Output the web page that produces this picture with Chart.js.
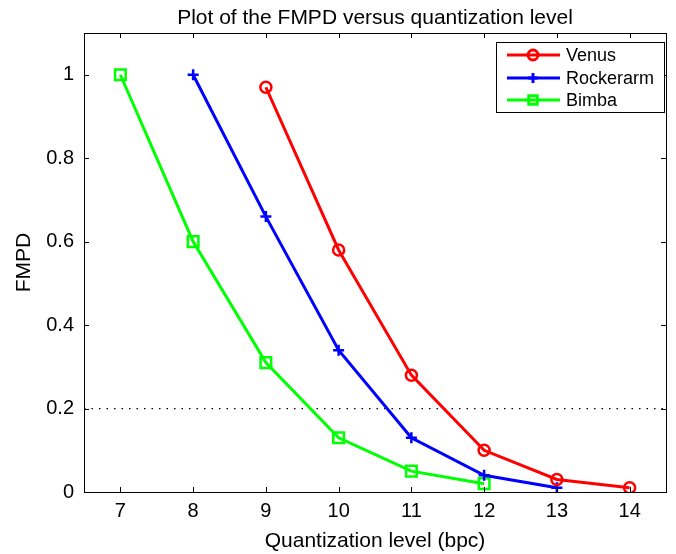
<!DOCTYPE html>
<html>
<head>
<meta charset="utf-8">
<script src="https://cdn.jsdelivr.net/npm/chart.js@4"></script>
<style>
  html, body { margin: 0; padding: 0; background: #fff; }
  canvas { display: block; }
</style>
</head>
<body>
<canvas id="chart" width="676" height="554"></canvas>
<script>
// FMPD vs quantization level - MATLAB-style line plot

const levelsVenus = [9, 10, 11, 12, 13, 14];
const fmpdVenus = [0.97, 0.58, 0.28, 0.10, 0.03, 0.01];

const levelsRocker = [8, 9, 10, 11, 12, 13];
const fmpdRocker = [1.0, 0.66, 0.34, 0.13, 0.04, 0.01];

const levelsBimba = [7, 8, 9, 10, 11, 12];
const fmpdBimba = [1.0, 0.60, 0.31, 0.13, 0.05, 0.02];

const threshold = 0.2;
const xTicks = [7, 8, 9, 10, 11, 12, 13, 14];
const yTicks = [0, 0.2, 0.4, 0.6, 0.8, 1];

const FONT = "'Liberation Sans', Arial, sans-serif";

function pairs(xs, ys) {
    return xs.map(function (x, i) { return { x: x, y: ys[i] }; });
}

function series(label, xs, ys, color, style, radius) {
    return {
        label: label,
        data: pairs(xs, ys),
        borderColor: color,
        backgroundColor: 'rgba(0,0,0,0)',
        borderWidth: 3,
        pointStyle: style,
        pointRadius: radius,
        pointBorderWidth: 2.5,
        pointBorderColor: color,
        pointBackgroundColor: 'rgba(0,0,0,0)',
        tension: 0,
        fill: false
    };
}

const ctx = document.getElementById('chart').getContext('2d');

new Chart(ctx, {
    type: 'line',
    data: {
        datasets: [
            series('Venus', levelsVenus, fmpdVenus, 'rgb(255,0,0)', 'circle', 5.5),
            series('Rockerarm', levelsRocker, fmpdRocker, 'rgb(0,0,255)', 'cross', 5.5),
            series('Bimba', levelsBimba, fmpdBimba, 'rgb(0,255,0)', 'rect', 7.5),
            {
                label: 'threshold',
                data: [{ x: 6.5, y: threshold }, { x: 14.5, y: threshold }],
                borderColor: '#000',
                borderWidth: 1.3,
                borderDash: [1.5, 6],
                pointRadius: 0,
                fill: false
            }
        ]
    },
    options: {
        responsive: false,
        animation: false,
        layout: { padding: { left: 0, right: 9, top: 33, bottom: 0 } },
        plugins: {
            legend: { display: false },
            title: { display: false },
            tooltip: { enabled: false }
        },
        scales: {
            x: {
                type: 'linear',
                min: 6.5,
                max: 14.5,
                afterBuildTicks: function (s) { s.ticks = xTicks.map(function (v) { return { value: v }; }); },
                afterFit: function (s) { s.height = 62; },
                ticks: { color: '#000', font: { family: FONT, size: 20 }, padding: 7 },
                grid: { display: false, drawTicks: false },
                border: { display: true, color: '#000', width: 1 },
                title: {
                    display: true,
                    text: 'Quantization level (bpc)',
                    color: '#000',
                    font: { family: FONT, size: 21 },
                    padding: { top: 6, bottom: 0 }
                }
            },
            y: {
                min: 0,
                max: 1.1,
                afterBuildTicks: function (s) { s.ticks = yTicks.map(function (v) { return { value: v }; }); },
                afterFit: function (s) { s.width = 84; },
                ticks: {
                    color: '#000',
                    font: { family: FONT, size: 20 },
                    padding: 10,
                    callback: function (v) { return String(Math.round(v * 10) / 10); }
                },
                grid: { display: false, drawTicks: false },
                border: { display: true, color: '#000', width: 1 },
                title: {
                    display: true,
                    text: 'FMPD',
                    color: '#000',
                    font: { family: FONT, size: 21 },
                    padding: { top: 12, bottom: 0 }
                }
            }
        }
    },
    plugins: [{
        id: 'matlabFrame',
        afterDraw: function (chart) {
            const c = chart.ctx;
            const a = chart.chartArea;
            const xs = chart.scales.x;
            const ys = chart.scales.y;
            const tl = 5;

            c.save();
            // box
            c.strokeStyle = '#000';
            c.lineWidth = 1;
            c.strokeRect(a.left + 0.5, a.top + 0.5, a.right - a.left, a.bottom - a.top);

            // inward ticks
            c.beginPath();
            xTicks.forEach(function (v) {
                const px = Math.round(xs.getPixelForValue(v)) + 0.5;
                c.moveTo(px, a.bottom); c.lineTo(px, a.bottom - tl);
                c.moveTo(px, a.top); c.lineTo(px, a.top + tl);
            });
            yTicks.forEach(function (v) {
                const py = Math.round(ys.getPixelForValue(v)) + 0.5;
                c.moveTo(a.left, py); c.lineTo(a.left + tl, py);
                c.moveTo(a.right, py); c.lineTo(a.right - tl, py);
            });
            c.stroke();

            // title
            c.fillStyle = '#000';
            c.font = '21px ' + FONT;
            c.textAlign = 'center';
            c.textBaseline = 'alphabetic';
            c.fillText('Plot of the FMPD versus quantization level', (a.left + a.right) / 2, 24);

            // legend box
            const lx = 496, ly = 42, lw = 168, lh = 70;
            c.fillStyle = '#fff';
            c.fillRect(lx, ly, lw, lh);
            c.strokeRect(lx + 0.5, ly + 0.5, lw, lh);

            const rows = [55, 78, 100];
            chart.data.datasets.slice(0, 3).forEach(function (ds, i) {
                const y = rows[i];
                c.strokeStyle = ds.borderColor;
                c.lineWidth = 3;
                c.beginPath();
                c.moveTo(507, y); c.lineTo(560, y);
                c.stroke();
                c.fillStyle = 'rgba(0,0,0,0)';
                Chart.helpers.drawPoint(c, {
                    pointStyle: ds.pointStyle,
                    radius: ds.pointStyle === 'rect' ? 6 : 5,
                    borderWidth: 2.5,
                    rotation: 0
                }, 533, y);
                c.fillStyle = '#000';
                c.font = '18px ' + FONT;
                c.textAlign = 'left';
                c.textBaseline = 'middle';
                c.fillText(ds.label, 566, y + 1);
            });
            c.restore();
        }
    }]
});
</script>
</body>
</html>
